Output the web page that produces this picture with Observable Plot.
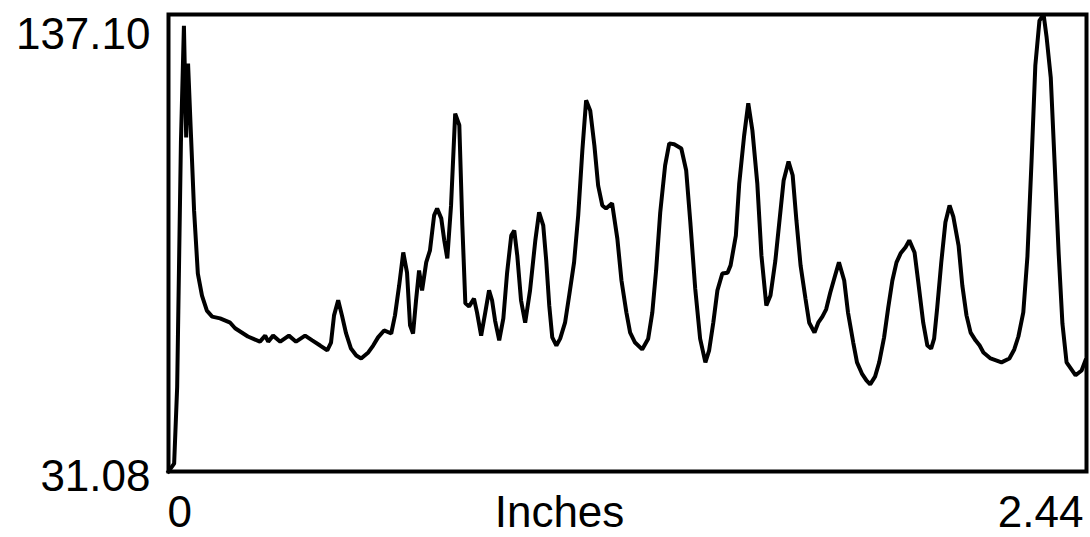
<!DOCTYPE html>
<html>
<head>
<meta charset="utf-8">
<script src="https://cdn.jsdelivr.net/npm/d3@7"></script>
<script src="https://cdn.jsdelivr.net/npm/@observablehq/plot@0.6"></script>
<style>
  html, body { margin: 0; padding: 0; background: #fff; }
  svg { display: block; }
</style>
</head>
<body>
<div id="chart"></div>
<script>
// Position along the sample (inches)
const inches = [
  0.000, 0.015, 0.023, 0.033, 0.041, 0.047, 0.052, 0.060, 0.068, 0.078,
  0.089, 0.102, 0.116, 0.137, 0.164, 0.177, 0.211, 0.243, 0.257, 0.265,
  0.278, 0.297, 0.320, 0.339, 0.363, 0.382, 0.403, 0.422, 0.432, 0.440,
  0.451, 0.461, 0.472, 0.485, 0.499, 0.512, 0.531, 0.544, 0.557, 0.573,
  0.592, 0.602, 0.613, 0.624, 0.634, 0.642, 0.650, 0.658, 0.666, 0.674,
  0.685, 0.695, 0.706, 0.714, 0.725, 0.733, 0.741, 0.751, 0.762, 0.773,
  0.781, 0.789, 0.799, 0.812, 0.820, 0.831, 0.842, 0.852, 0.860, 0.868,
  0.879, 0.890, 0.900, 0.911, 0.919, 0.927, 0.937, 0.948, 0.961, 0.975,
  0.985, 0.996, 1.004, 1.012, 1.020, 1.031, 1.041, 1.054, 1.065, 1.078,
  1.089, 1.100, 1.110, 1.121, 1.132, 1.142, 1.153, 1.163, 1.179, 1.193,
  1.204, 1.217, 1.227, 1.240, 1.259, 1.275, 1.286, 1.296, 1.307, 1.320,
  1.331, 1.344, 1.363, 1.376, 1.387, 1.400, 1.413, 1.427, 1.437, 1.448,
  1.459, 1.472, 1.486, 1.494, 1.508, 1.517, 1.530, 1.541, 1.552, 1.565,
  1.576, 1.589, 1.600, 1.613, 1.624, 1.635, 1.648, 1.659, 1.669, 1.680,
  1.693, 1.703, 1.717, 1.727, 1.738, 1.748, 1.759, 1.772, 1.782, 1.796,
  1.806, 1.820, 1.830, 1.843, 1.855, 1.865, 1.878, 1.889, 1.902, 1.913,
  1.924, 1.935, 1.946, 1.959, 1.969, 1.983, 1.993, 2.006, 2.017, 2.027,
  2.035, 2.043, 2.054, 2.065, 2.076, 2.086, 2.100, 2.110, 2.121, 2.132,
  2.145, 2.156, 2.166, 2.185, 2.214, 2.235, 2.248, 2.259, 2.272, 2.283,
  2.294, 2.304, 2.315, 2.326, 2.334, 2.345, 2.355, 2.366, 2.376, 2.387,
  2.411, 2.427, 2.437
];

// Measured profile value
const values = [
  31.08, 32.9, 50.6, 107.4, 134.5, 108.6, 125.7, 108.6, 91.6, 77.0,
  71.9, 68.4, 67.0, 66.6, 65.6, 64.3, 62.4, 61.2, 62.6, 61.2,
  62.6, 61.2, 62.6, 61.2, 62.6, 61.5, 60.3, 59.2, 61.0, 67.3,
  70.8, 67.3, 63.1, 59.6, 58.0, 57.3, 58.7, 60.3, 62.2, 63.8,
  63.1, 67.3, 74.2, 81.9, 77.2, 65.0, 63.1, 70.8, 77.7, 73.1,
  79.6, 82.4, 90.5, 92.1, 89.8, 84.7, 80.5, 92.8, 114.1, 111.4,
  88.2, 70.1, 69.4, 71.2, 68.0, 62.6, 68.0, 73.1, 70.8, 66.1,
  61.5, 66.6, 77.2, 85.8, 87.0, 81.2, 70.8, 65.6, 73.1, 84.7,
  91.2, 88.2, 80.0, 69.6, 62.2, 60.3, 61.9, 65.6, 71.9, 79.6,
  90.5, 105.6, 117.2, 114.8, 106.7, 97.4, 92.8, 92.1, 93.3, 85.1,
  75.4, 68.0, 63.3, 61.0, 59.4, 61.9, 68.0, 77.7, 91.2, 102.1,
  107.2, 107.0, 106.0, 100.9, 88.9, 73.5, 61.9, 56.4, 59.2, 65.6,
  73.1, 77.0, 77.2, 78.9, 85.8, 97.9, 109.0, 116.5, 110.2, 97.9,
  81.2, 69.6, 71.9, 80.0, 89.3, 98.6, 103.0, 99.8, 89.3, 78.9,
  71.2, 65.6, 63.3, 65.6, 67.0, 68.7, 72.6, 76.6, 79.6, 75.4,
  68.0, 61.0, 56.4, 53.8, 52.2, 51.3, 53.1, 56.4, 62.2, 69.1,
  75.4, 79.6, 81.7, 83.1, 84.7, 81.9, 74.9, 65.6, 60.3, 59.6,
  61.9, 68.9, 79.6, 88.9, 92.8, 90.2, 83.5, 74.2, 67.3, 63.3,
  61.5, 60.3, 58.7, 57.3, 56.4, 57.3, 59.4, 62.4, 68.0, 81.0,
  103.2, 125.3, 135.7, 137.1, 131.8, 122.5, 103.2, 81.7, 65.4, 56.4,
  53.4, 54.5, 56.8
];

// Axis extremes and labels
const yMin = 31.08, yMax = 137.10;
const xMin = 0, xMax = 2.44;
const yTickLabels = ["31.08", "137.10"];
const xTickLabels = ["0", "2.44"];
const xAxisTitle = "Inches";

const data = inches.map((x, i) => ({x, y: values[i]}));

const font = "'Liberation Sans', Arial, sans-serif";
const fs = 44;

const chart = Plot.plot({
  width: 1090,
  height: 537,
  marginLeft: 168,
  marginRight: 4,
  marginTop: 14,
  marginBottom: 66,
  style: {fontFamily: font, background: "#fff", color: "#000"},
  x: {domain: [xMin, xMax], axis: null},
  y: {domain: [yMin, yMax], axis: null},
  marks: [
    Plot.line(data, {x: "x", y: "y", stroke: "#000", strokeWidth: 4, strokeLinejoin: "miter", strokeLinecap: "square"}),
    Plot.frame({stroke: "#000", strokeWidth: 4}),
    // Y extremes
    Plot.text([yMax], {y: d => d, text: () => yTickLabels[1], frameAnchor: "left", textAnchor: "end", dx: -18, dy: 20, fontSize: fs, fill: "#000"}),
    Plot.text([yMin], {y: d => d, text: () => yTickLabels[0], frameAnchor: "left", textAnchor: "end", dx: -18, dy: 5, fontSize: fs, fill: "#000"}),
    // X extremes
    Plot.text([xMin], {x: d => d, text: () => xTickLabels[0], frameAnchor: "bottom", textAnchor: "start", dx: -1, dy: 55, fontSize: fs, fill: "#000"}),
    Plot.text([xMax], {x: d => d, text: () => xTickLabels[1], frameAnchor: "bottom", textAnchor: "end", dx: -3, dy: 55, fontSize: fs, fill: "#000"}),
    // X title
    Plot.text([xAxisTitle], {text: d => d, frameAnchor: "bottom", dx: -68, dy: 55, fontSize: fs, fill: "#000"})
  ]
});

document.getElementById("chart").appendChild(chart);
</script>
</body>
</html>
